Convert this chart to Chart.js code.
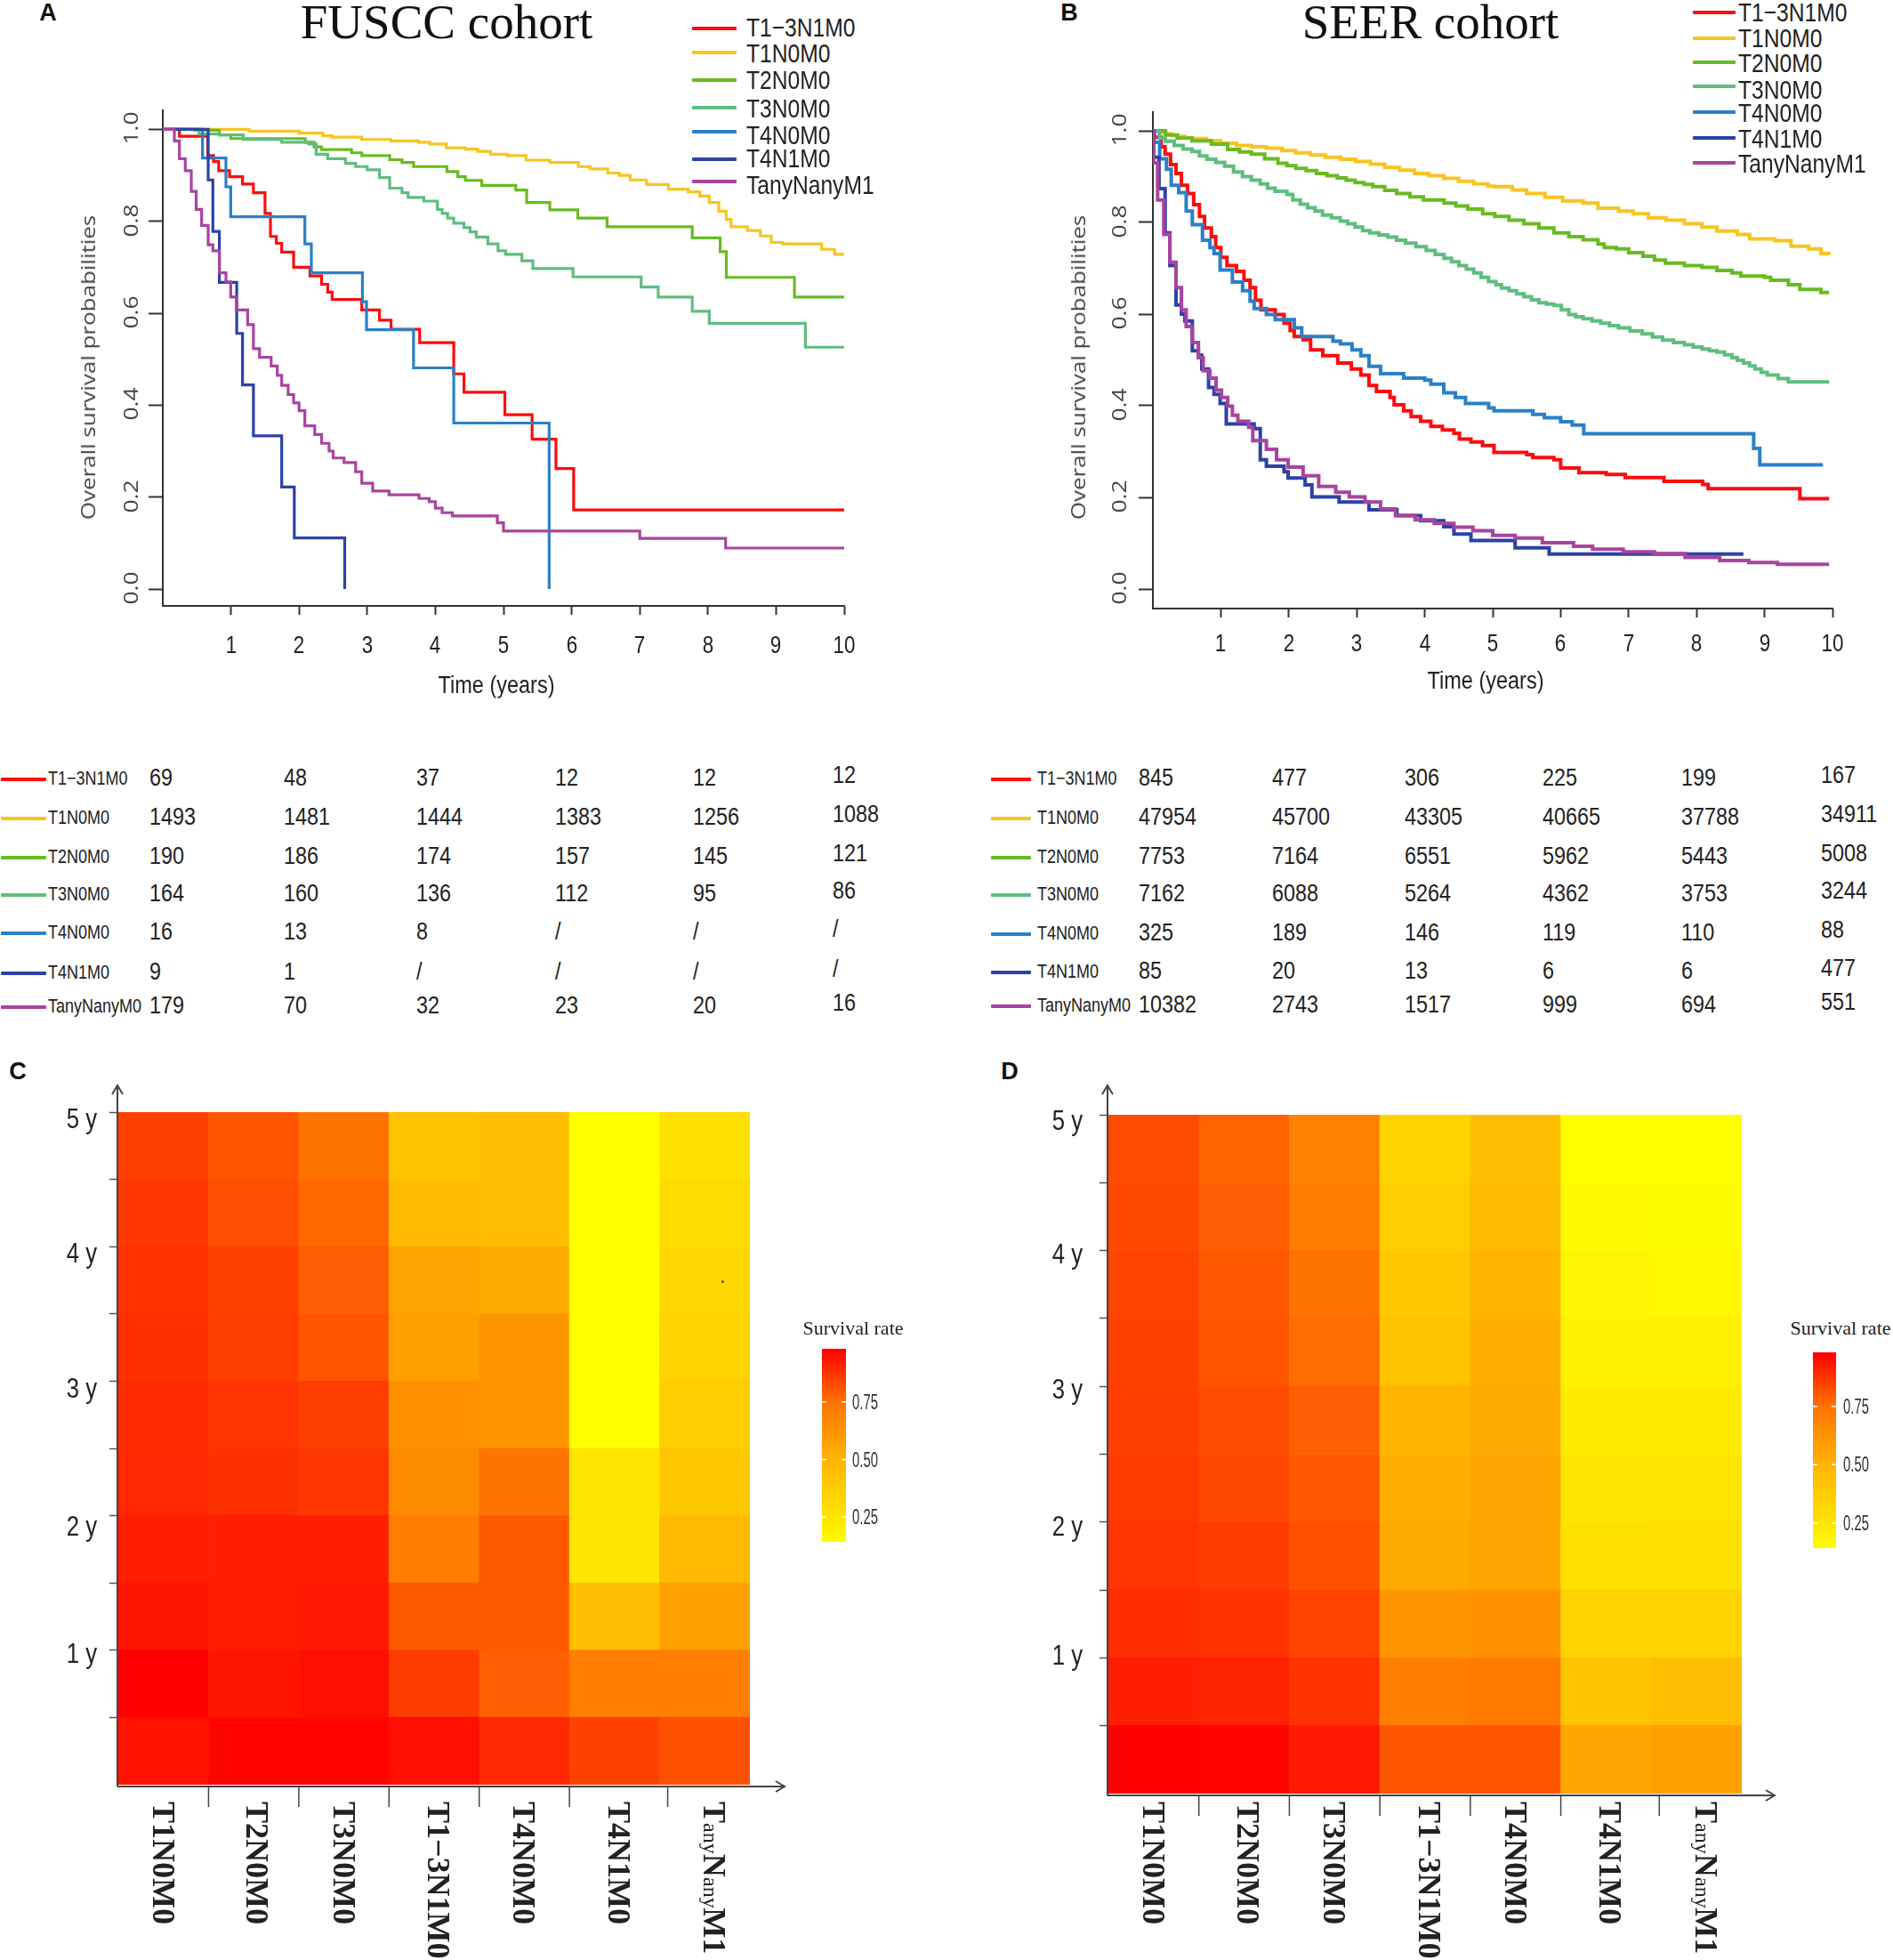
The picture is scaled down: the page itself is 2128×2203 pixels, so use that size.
<!DOCTYPE html>
<html>
<head>
<meta charset="utf-8">
<title>Survival by stage</title>
<script src="https://cdn.jsdelivr.net/npm/chart.js@4/dist/chart.umd.js"></script>
<style>
  html, body { margin: 0; padding: 0; background: #fff; }
  #page { position: relative; width: 2128px; height: 2203px; overflow: hidden; }
  canvas { position: absolute; }
  .txt { position: absolute; white-space: nowrap; line-height: 1; color: #222; }
  .key { position: absolute; height: 4px; border-radius: 1px; }
</style>
</head>
<body>
<div id="page"></div>
<script>
// series shared by both cohorts
const seriesNames = ["T1\u22123N1M0", "T1N0M0", "T2N0M0", "T3N0M0", "T4N0M0", "T4N1M0", "TanyNanyM1"];
const tableNames = ["T1\u22123N1M0", "T1N0M0", "T2N0M0", "T3N0M0", "T4N0M0", "T4N1M0", "TanyNanyM0"];
const seriesColors = ["#fb0d0d", "#f7c422", "#68bb22", "#5fbd7f", "#2b80c6", "#2c42a6", "#a8449f"];

// FUSCC survival curves
const fT13N1M0 = [0,.244,.66,.745,.82,.98,1.17,1.33,1.5,1.58,1.667,1.745,1.92,2.16,2.33,2.42,2.485,2.92,3.18,3.35,3.77,4.27,4.42,5.02,5.42,5.77,6.03,10];
const fS13N1M0 = [1,.985,.943,.93,.91,.897,.881,.862,.817,.767,.752,.733,.70,.681,.663,.646,.63,.607,.585,.565,.536,.468,.428,.379,.326,.262,.172,.172];
const fT1N0M0 = [0,1.27,2.0,2.35,2.48,2.92,3.35,3.75,3.92,4.16,4.44,4.62,4.81,5.05,5.33,5.68,6.1,6.27,6.53,6.7,6.86,7.1,7.42,7.71,7.88,8.02,8.16,8.27,8.34,8.58,8.77,8.93,9.1,9.67,9.86,10];
const fS1N0M0 = [1,.996,.992,.986,.983,.978,.975,.972,.968,.96,.957,.952,.946,.943,.933,.928,.919,.914,.905,.90,.89,.88,.87,.864,.855,.841,.822,.804,.788,.78,.768,.754,.751,.739,.728,.728];
const fT2N0M0 = [0,.48,.83,1.0,2.09,2.22,2.33,2.77,2.92,3.33,3.51,3.68,4.17,4.33,4.44,4.68,5.18,5.34,5.68,6.09,6.52,7.77,8.18,8.27,9.27,10];
const fS2N0M0 = [1,.998,.988,.98,.972,.962,.956,.949,.943,.934,.928,.919,.908,.897,.889,.878,.868,.841,.825,.807,.788,.764,.734,.678,.635,.635];
const fT3N0M0 = [0,.53,.83,1.18,1.745,2.14,2.25,2.42,2.68,2.83,3.0,3.18,3.33,3.51,3.6,3.83,4.03,4.1,4.18,4.27,4.42,4.51,4.6,4.77,4.92,5.03,5.27,5.43,6.02,7.02,7.27,7.77,8.02,9.43,10];
const fS3N0M0 = [1,.99,.988,.978,.972,.968,.946,.936,.926,.919,.912,.895,.872,.862,.852,.844,.826,.817,.807,.796,.786,.777,.766,.751,.736,.728,.714,.697,.679,.657,.635,.604,.578,.526,.526];
const fT4N0M0 = [0,.583,.927,.997,2.085,2.18,2.93,2.99,3.68,4.27,5.67];
const fS4N0M0 = [1,.9375,.875,.81,.751,.688,.625,.564,.481,.361,0];
const fT4N1M0 = [0,.666,.735,.83,1.085,1.17,1.33,1.745,1.93,2.67];
const fS4N1M0 = [1,.89,.778,.667,.556,.444,.333,.222,.111,0];
const fTM1 = [0,.17,.244,.33,.418,.49,.57,.666,.735,.83,.927,.997,1.08,1.245,1.33,1.42,1.59,1.68,1.745,1.84,1.92,2.0,2.085,2.23,2.33,2.44,2.5,2.66,2.83,2.92,3.08,3.32,3.76,3.91,4.0,4.1,4.25,4.91,5.0,7.0,8.26,10];
const fSM1 = [1,.975,.936,.91,.865,.826,.791,.749,.736,.688,.668,.635,.607,.575,.523,.504,.485,.465,.443,.423,.405,.388,.355,.336,.317,.30,.285,.275,.255,.23,.213,.205,.197,.19,.176,.166,.159,.144,.126,.11,.089,.089];

// SEER survival curves
const sT13N1M0 = [0,.02,.12,.18,.26,.34,.42,.51,.6,.685,.76,.86,.925,1.0,1.09,1.23,1.34,1.43,1.51,1.59,1.8,1.93,2.02,2.08,2.21,2.32,2.5,2.72,2.92,3.06,3.18,3.29,3.49,3.55,3.69,3.8,3.94,4.09,4.26,4.43,4.51,4.68,4.85,5.02,5.5,5.59,5.9,6.0,6.27,6.67,6.95,7.52,8.09,8.17,9.52,9.95];
const sS13N1M0 = [1,.986,.965,.949,.926,.907,.881,.863,.839,.813,.788,.769,.745,.724,.706,.693,.674,.658,.63,.609,.599,.58,.564,.551,.544,.522,.509,.493,.48,.467,.444,.431,.418,.402,.389,.376,.366,.355,.347,.34,.327,.321,.313,.298,.293,.287,.282,.264,.254,.25,.243,.235,.228,.219,.197,.197];
const sT1N0M0 = [0,.1,.2,.28,.36,.47,.58,.79,1.0,1.23,1.45,1.67,1.9,2.1,2.32,2.54,2.76,2.98,3.2,3.41,3.63,3.85,4.06,4.28,4.5,4.72,4.93,5.03,5.29,5.5,5.77,6.03,6.33,6.55,6.85,7.07,7.29,7.55,7.82,8.08,8.3,8.6,8.78,9.15,9.39,9.65,9.83,9.95];
const sS1N0M0 = [1,.996,.993,.99,.988,.985,.983,.978,.973,.968,.965,.962,.957,.952,.947,.942,.938,.933,.927,.92,.914,.907,.902,.896,.89,.884,.879,.878,.871,.863,.855,.847,.842,.831,.825,.819,.81,.805,.797,.79,.781,.774,.764,.76,.748,.742,.732,.73];
const sT2N0M0 = [0,.183,.358,.576,.86,1.1,1.274,1.449,1.645,1.841,1.972,2.103,2.256,2.408,2.561,2.714,2.845,2.976,3.106,3.237,3.412,3.586,3.783,3.979,4.284,4.459,4.634,4.852,5.03,5.24,5.46,5.68,5.9,6.12,6.33,6.55,6.64,6.82,7,7.21,7.38,7.54,7.82,8.08,8.3,8.52,8.65,9,9.09,9.35,9.52,9.83,9.95];
const sS2N0M0 = [1,.991,.984,.978,.971,.959,.954,.949,.939,.929,.924,.918,.913,.907,.902,.897,.892,.887,.883,.878,.87,.863,.856,.849,.842,.836,.829,.819,.813,.805,.797,.788,.777,.769,.762,.753,.745,.742,.734,.726,.718,.711,.706,.702,.695,.69,.683,.68,.674,.664,.654,.647,.647];
const sT3N0M0 = [0,.096,.183,.314,.445,.576,.685,.794,.925,1.056,1.187,1.318,1.449,1.579,1.688,1.798,1.972,2.059,2.168,2.277,2.387,2.496,2.627,2.757,2.866,2.976,3.085,3.194,3.325,3.455,3.586,3.717,3.87,4.023,4.154,4.284,4.394,4.503,4.612,4.721,4.83,4.939,5.048,5.13,5.24,5.35,5.46,5.57,5.68,5.79,5.9,6.01,6.12,6.22,6.33,6.46,6.59,6.72,6.85,7.02,7.2,7.35,7.5,7.66,7.82,7.95,8.08,8.19,8.3,8.41,8.52,8.6,8.69,8.78,8.86,8.95,9.04,9.2,9.35,9.95];
const sS3N0M0 = [1,.984,.977,.968,.96,.955,.945,.938,.931,.923,.91,.9,.892,.884,.875,.868,.861,.849,.84,.832,.825,.816,.81,.803,.797,.79,.782,.777,.773,.768,.761,.755,.747,.739,.73,.722,.714,.706,.698,.69,.68,.671,.664,.657,.651,.644,.638,.631,.625,.622,.619,.609,.599,.594,.59,.585,.58,.575,.57,.563,.557,.55,.543,.538,.533,.528,.524,.52,.517,.511,.505,.499,.493,.487,.48,.473,.467,.459,.452,.452];
const sT4N0M0 = [0,.02,.1,.2,.27,.38,.49,.58,.73,.84,.9,.99,1.17,1.32,1.43,1.49,1.67,1.8,2.08,2.19,2.65,2.76,2.93,3.06,3.18,3.35,3.69,4.0,4.09,4.28,4.45,4.6,4.94,5.02,5.59,5.76,6.0,6.17,6.34,8.84,8.93,9.86];
const sS4N0M0 = [1,.975,.939,.916,.881,.865,.825,.795,.761,.745,.732,.696,.67,.651,.628,.612,.599,.588,.57,.551,.541,.535,.522,.509,.486,.47,.46,.456,.447,.428,.418,.405,.395,.389,.381,.374,.365,.358,.339,.307,.271,.271];
const sT4N1M0 = [0,.01,.09,.18,.25,.34,.42,.47,.58,.67,.72,.82,.9,.99,1.08,1.49,1.58,1.67,1.93,1.99,2.24,2.34,2.74,3.18,3.59,3.94,4.28,4.43,4.68,5.33,5.83,8.69];
const sS4N1M0 = [1,.942,.874,.777,.706,.62,.60,.585,.52,.51,.48,.44,.425,.405,.36,.35,.282,.268,.256,.242,.227,.201,.19,.173,.16,.149,.136,.12,.106,.09,.076,.076];
const sTM1 = [0,.01,.07,.16,.25,.34,.42,.49,.58,.67,.74,.84,.93,1.01,1.1,1.17,1.25,1.41,1.47,1.67,1.82,1.99,2.21,2.44,2.69,2.89,3.12,3.35,3.57,3.86,4.14,4.43,4.71,5,5.33,5.73,6.19,6.47,6.92,7.38,7.83,8.34,8.77,9.19,9.95];
const sSM1 = [1,.93,.849,.774,.713,.658,.609,.573,.538,.505,.476,.46,.434,.418,.399,.379,.366,.353,.324,.305,.282,.266,.247,.224,.211,.201,.19,.175,.16,.151,.143,.135,.127,.117,.111,.101,.093,.087,.081,.077,.069,.062,.058,.054,.054];

// axis ticks of the survival plots
const yearTicks = [1, 2, 3, 4, 5, 6, 7, 8, 9, 10];
const survivalTicks = [0, .2, .4, .6, .8, 1];

// numbers at risk
const fuscCounts = [
  ["69", "48", "37", "12", "12", "12"],
  ["1493", "1481", "1444", "1383", "1256", "1088"],
  ["190", "186", "174", "157", "145", "121"],
  ["164", "160", "136", "112", "95", "86"],
  ["16", "13", "8", "/", "/", "/"],
  ["9", "1", "/", "/", "/", "/"],
  ["179", "70", "32", "23", "20", "16"]
];
const seerCounts = [
  ["845", "477", "306", "225", "199", "167"],
  ["47954", "45700", "43305", "40665", "37788", "34911"],
  ["7753", "7164", "6551", "5962", "5443", "5008"],
  ["7162", "6088", "5264", "4362", "3753", "3244"],
  ["325", "189", "146", "119", "110", "88"],
  ["85", "20", "13", "6", "6", "477"],
  ["10382", "2743", "1517", "999", "694", "551"]
];

// heatmap rates, bottom row (0-0.5 y) first
const heatCategories = ["T1N0M0", "T2N0M0", "T3N0M0", "T1\u22123N1M0", "T4N0M0", "T4N1M0", "TanyNanyM1"];
const heatRows = [0, .5, 1, 1.5, 2, 2.5, 3, 3.5, 4, 4.5, 5];
const heatTicks = [.5, 1, 1.5, 2, 2.5, 3, 3.5, 4, 4.5, 5];
const heatYears = [1, 2, 3, 4, 5];
const cRates = [
  [.94,.977,.934,.918,.898,.892,.884,.878,.868,.853],
  [.967,.938,.922,.918,.882,.874,.855,.849,.823,.809],
  [.967,.947,.928,.918,.868,.855,.809,.789,.77,.75],
  [.947,.859,.799,.711,.654,.635,.577,.558,.474,.422],
  [.898,.789,.799,.799,.75,.615,.615,.538,.448,.448],
  [.849,.711,.448,.242,.242,.136,.136,.136,.136,.136],
  [.819,.711,.577,.474,.396,.37,.344,.318,.292,.266]
];
const dRates = [
  [.977,.918,.888,.874,.863,.855,.849,.843,.835,.829],
  [.967,.908,.878,.859,.839,.829,.813,.803,.789,.78],
  [.928,.878,.843,.819,.803,.789,.764,.75,.711,.692],
  [.809,.711,.615,.538,.519,.5,.422,.396,.37,.344],
  [.809,.731,.635,.558,.558,.538,.519,.5,.474,.448],
  [.558,.422,.344,.266,.242,.221,.2,.178,.157,.136],
  [.577,.448,.344,.266,.25,.221,.2,.165,.149,.136]
];

// colour scale of the rate legend
const scaleRates = [.136, .25, .5, .75, .977];
const scaleGreen = [255, 228, 180, 115, 0];
const legendTicks = [.25, .5, .75];

const SANS = '"Liberation Sans", sans-serif';
const SERIF = '"Liberation Serif", serif';
const OPEN = '"Open Sans", sans-serif';
const page = document.getElementById("page");

// text squeezed sideways because the reference has a tall narrow face
function addText(text, x, y, css) {
  const d = document.createElement("div");
  d.className = "txt";
  d.innerHTML = text;
  d.style.left = x + "px";
  d.style.top = y + "px";
  if (css.tf) {
    d.style.transform = css.tf;
  } else {
    d.style.transformOrigin = "0 50%";
    d.style.transform = "translateY(-50%) scaleX(" + (css.sx || 1) + ")";
  }
  d.style.fontFamily = css.family || SANS;
  d.style.fontSize = css.size + "px";
  if (css.bold) d.style.fontWeight = "bold";
  if (css.color) d.style.color = css.color;
  if (css.mode) d.style.writingMode = css.mode;
  page.appendChild(d);
  return d;
}

function addCanvas(left, top, w, h) {
  const c = document.createElement("canvas");
  c.width = w;
  c.height = h;
  c.style.left = left + "px";
  c.style.top = top + "px";
  c.style.width = w + "px";
  c.style.height = h + "px";
  page.appendChild(c);
  return c;
}

function greenFor(rate) {
  if (rate <= scaleRates[0]) return scaleGreen[0];
  for (let i = 1; i < scaleRates.length; i++) {
    if (rate <= scaleRates[i]) {
      const k = (rate - scaleRates[i - 1]) / (scaleRates[i] - scaleRates[i - 1]);
      return scaleGreen[i - 1] + k * (scaleGreen[i] - scaleGreen[i - 1]);
    }
  }
  return 0;
}
function rateColor(rate) {
  return "rgb(255," + Math.round(greenFor(rate)) + ",0)";
}

function curve(times, values) {
  return times.map((t, i) => ({ x: t, y: values[i] }));
}

function survivalChart(box, curves) {
  const canvas = addCanvas(box.left, box.top, box.w, box.h);
  const perUnit = box.y0 - box.y1;
  const chart = new Chart(canvas, {
    type: "line",
    data: {
      datasets: curves.map((c, i) => ({
        label: seriesNames[i],
        data: curve(c[0], c[1]),
        stepped: true,
        borderColor: seriesColors[i],
        borderWidth: box.lineWidth,
        pointRadius: 0,
        fill: false,
        order: curves.length - i
      }))
    },
    options: {
      responsive: false,
      animation: false,
      devicePixelRatio: 1,
      layout: { padding: { top: box.plotTop - box.top, right: box.left + box.w - box.plotRight, left: 0, bottom: 0 } },
      plugins: { legend: { display: false }, tooltip: { enabled: false } },
      scales: {
        x: {
          type: "linear",
          min: 0,
          max: 10,
          afterBuildTicks: s => { s.ticks = yearTicks.map(v => ({ value: v })); },
          afterFit: s => { s.height = box.top + box.h - box.plotBottom; s.paddingLeft = 0; s.paddingRight = 0; },
          grid: { drawOnChartArea: false, tickLength: 10, tickColor: "#333", tickWidth: 2 },
          border: { color: "#333", width: 2 },
          ticks: { display: false, autoSkip: false }
        },
        y: {
          min: -(box.plotBottom - box.y0) / perUnit,
          max: 1 + (box.y1 - box.plotTop) / perUnit,
          afterBuildTicks: s => { s.ticks = survivalTicks.map(v => ({ value: v })); },
          afterFit: s => { s.width = box.plotLeft - box.left; s.paddingTop = 0; s.paddingBottom = 0; },
          grid: { drawOnChartArea: false, tickLength: 16, tickColor: "#333", tickWidth: 2 },
          border: { color: "#333", width: 2 },
          ticks: { display: false, autoSkip: false }
        }
      }
    }
  });
  // tick labels sit at the scale positions
  yearTicks.forEach(v => {
    addText(String(v), box.left + chart.scales.x.getPixelForValue(v), box.xLabelY, {
      size: 28, color: "#222", tf: "translate(-50%,-50%) scaleX(.8)"
    });
  });
  survivalTicks.forEach(v => {
    addText(v.toFixed(1), box.yLabelX, box.top + chart.scales.y.getPixelForValue(v) - 1, {
      family: OPEN, size: 22, color: "#444", tf: "translate(-50%,-50%) rotate(-90deg) scaleX(1.2)"
    });
  });
}

// arrows, extended axis lines and the ticks between cells of a heatmap
const heatAxes = {
  id: "heatAxes",
  afterDraw(chart, args, opts) {
    const c = chart.ctx, a = chart.chartArea, sx = chart.scales.x;
    c.save();
    c.strokeStyle = "#444";
    c.lineWidth = 2;
    const ax = a.left - 1, ay = a.bottom + 2;
    c.beginPath();
    c.moveTo(ax, ay);
    c.lineTo(ax, a.top - opts.rise);
    c.moveTo(ax - 6, a.top - opts.rise + 10);
    c.lineTo(ax, a.top - opts.rise);
    c.lineTo(ax + 6, a.top - opts.rise + 10);
    c.moveTo(ax, ay);
    c.lineTo(a.right + opts.run, ay);
    c.moveTo(a.right + opts.run - 10, ay - 6);
    c.lineTo(a.right + opts.run, ay);
    c.lineTo(a.right + opts.run - 10, ay + 6);
    c.stroke();
    c.lineWidth = 1.5;
    c.beginPath();
    for (let i = 1; i < heatCategories.length; i++) {
      const shift = i === heatCategories.length - 1 ? 9 : 0;
      const x = (sx.getPixelForValue(i - 1) + sx.getPixelForValue(i)) / 2 + shift;
      c.moveTo(x, ay);
      c.lineTo(x, ay + 23);
    }
    c.stroke();
    c.restore();
  }
};

function heatChart(box, rates) {
  const canvas = addCanvas(box.left, box.top, box.w, box.h);
  const datasets = [];
  for (let r = 0; r < heatRows.length - 1; r++) {
    datasets.push({
      data: heatCategories.map(() => [heatRows[r], heatRows[r + 1]]),
      backgroundColor: rates.map(col => rateColor(col[r])),
      borderWidth: 0,
      barPercentage: 1,
      categoryPercentage: 1,
      grouped: false
    });
  }
  const chart = new Chart(canvas, {
    type: "bar",
    data: { labels: heatCategories, datasets: datasets },
    plugins: [heatAxes],
    options: {
      responsive: false,
      animation: false,
      devicePixelRatio: 1,
      layout: { padding: { top: box.plotTop - box.top, right: box.left + box.w - box.plotRight, left: 0, bottom: 0 } },
      plugins: {
        legend: { display: false },
        tooltip: { enabled: false },
        heatAxes: { rise: box.plotTop - box.arrowTop, run: box.arrowRight - box.plotRight }
      },
      scales: {
        x: {
          afterFit: s => { s.height = box.top + box.h - box.plotBottom; s.paddingLeft = 0; s.paddingRight = 0; },
          grid: { display: false },
          border: { display: false },
          ticks: { display: false }
        },
        y: {
          min: 0,
          max: 5,
          afterBuildTicks: s => { s.ticks = heatTicks.map(v => ({ value: v })); },
          afterFit: s => { s.width = box.plotLeft - box.left; s.paddingTop = 0; s.paddingBottom = 0; },
          grid: { drawOnChartArea: false, tickLength: 10, tickColor: "#555", tickWidth: 1.5 },
          border: { display: false },
          ticks: { display: false, autoSkip: false }
        }
      }
    }
  });
  heatYears.forEach((v, i) => {
    addText(v + " y", box.yLabelX, box.top + chart.scales.y.getPixelForValue(v) + box.yLabelShift[i], {
      size: 31, color: "#222", tf: "translate(-50%,-50%) scaleX(.83)"
    });
  });
  // rotated category names under the cells
  const shifts = [0, 4, 0, 5, 0, 5, 11];
  heatCategories.forEach((name, i) => {
    let html = name;
    if (name === "TanyNanyM1") {
      const sub = '<span style="font-size:24px;font-weight:normal;position:relative;left:-4px">any</span>';
      html = "T" + sub + "N" + sub + "M1";
    }
    addText(html, box.left + chart.scales.x.getPixelForValue(i) + shifts[i], box.labelTop, {
      family: SERIF, size: 36, bold: true, mode: "vertical-rl", tf: "translateX(-50%)"
    });
  });
}

function rateLegend(box) {
  const canvas = addCanvas(box.left, box.top, box.w, box.h);
  const whiteMarks = {
    id: "whiteMarks",
    afterDraw(chart) {
      const c = chart.ctx, a = chart.chartArea, sy = chart.scales.y;
      c.save();
      c.strokeStyle = "#fff";
      c.lineWidth = 1.5;
      c.beginPath();
      legendTicks.forEach(v => {
        const y = sy.getPixelForValue(v);
        c.moveTo(a.left, y); c.lineTo(a.left + 5, y);
        c.moveTo(a.right - 5, y); c.lineTo(a.right, y);
      });
      c.stroke();
      c.restore();
    }
  };
  const chart = new Chart(canvas, {
    type: "bar",
    data: {
      labels: ["rate"],
      datasets: [{
        data: [[box.low, box.high]],
        barPercentage: 1,
        categoryPercentage: 1,
        borderWidth: 0,
        backgroundColor: ctx => {
          const a = ctx.chart.chartArea;
          if (!a) return "#f80";
          const g = ctx.chart.ctx.createLinearGradient(0, a.bottom, 0, a.top);
          const span = box.high - box.low;
          g.addColorStop(0, rateColor(box.low));
          scaleRates.forEach(r => {
            if (r > box.low && r < box.high) g.addColorStop((r - box.low) / span, rateColor(r));
          });
          g.addColorStop(1, rateColor(box.high));
          return g;
        }
      }]
    },
    plugins: [whiteMarks],
    options: {
      responsive: false,
      animation: false,
      devicePixelRatio: 1,
      layout: { padding: { top: box.plotTop - box.top, left: box.plotLeft - box.left, right: 0, bottom: box.top + box.h - box.plotBottom } },
      plugins: { legend: { display: false }, tooltip: { enabled: false } },
      scales: {
        x: { display: false },
        y: {
          position: "right",
          min: box.low,
          max: box.high,
          afterBuildTicks: s => { s.ticks = legendTicks.map(v => ({ value: v })); },
          afterFit: s => { s.width = box.left + box.w - box.plotRight; s.paddingTop = 0; s.paddingBottom = 0; },
          grid: { display: false },
          border: { display: false },
          ticks: { display: false, autoSkip: false }
        }
      }
    }
  });
  legendTicks.forEach(v => {
    addText(v.toFixed(2), box.labelX, box.top + chart.scales.y.getPixelForValue(v), { size: 24, color: "#333", sx: .62 });
  });
  addText("Survival rate", box.titleX, box.titleY, { family: SERIF, size: 22, color: "#222", tf: "translate(-50%,-50%)" });
}

function seriesKey(keyRows, labelRows, x0, x1, labelX) {
  keyRows.forEach((y, i) => {
    const k = document.createElement("div");
    k.className = "key";
    k.style.left = x0 + "px";
    k.style.top = (y - 2) + "px";
    k.style.width = (x1 - x0) + "px";
    k.style.background = seriesColors[i];
    page.appendChild(k);
    addText(seriesNames[i], labelX, labelRows[i], { size: 30, sx: .82 });
  });
}

function riskTable(rows, counts, lineX0, lineX1, labelX, cols) {
  rows.forEach((y, i) => {
    const k = document.createElement("div");
    k.className = "key";
    k.style.left = lineX0 + "px";
    k.style.top = (y + 1) + "px";
    k.style.width = (lineX1 - lineX0) + "px";
    k.style.background = seriesColors[i];
    page.appendChild(k);
    addText(tableNames[i], labelX, y + 2, { size: 22.5, sx: .8 });
    counts[i].forEach((n, j) => {
      addText(n, cols[j], j === 5 ? y - 3 : y, { size: 28.5, color: "#222", sx: .82 });
    });
  });
}

// panel A
survivalChart({ left: 50, top: 100, w: 960, h: 686, plotLeft: 183, plotRight: 949, plotTop: 124, plotBottom: 681, y1: 145.4, y0: 662, lineWidth: 3.2, xLabelY: 725, yLabelX: 146 }, [
  [fT13N1M0, fS13N1M0], [fT1N0M0, fS1N0M0], [fT2N0M0, fS2N0M0], [fT3N0M0, fS3N0M0],
  [fT4N0M0, fS4N0M0], [fT4N1M0, fS4N1M0], [fTM1, fSM1]
]);
addText("FUSCC cohort", 502, 24, { family: SERIF, size: 55, color: "#111", tf: "translate(-50%,-50%)" });
addText("A", 54, 14, { size: 27, bold: true, color: "#111", tf: "translate(-50%,-50%)" });
addText("Overall survival probabilities", 98, 413, { family: OPEN, size: 22, color: "#444", tf: "translate(-50%,-50%) rotate(-90deg) scaleX(1.18)" });
addText("Time (years)", 558, 770, { size: 27, color: "#222", tf: "translate(-50%,-50%) scaleX(.87)" });
seriesKey([32, 59, 90, 121, 148, 179, 204], [31, 60, 90, 122, 152, 178, 208], 778, 828, 839);

// panel B
survivalChart({ left: 1160, top: 100, w: 960, h: 682, plotLeft: 1296, plotRight: 2060, plotTop: 126, plotBottom: 684, y1: 147, y0: 662, lineWidth: 4, xLabelY: 723, yLabelX: 1257 }, [
  [sT13N1M0, sS13N1M0], [sT1N0M0, sS1N0M0], [sT2N0M0, sS2N0M0], [sT3N0M0, sS3N0M0],
  [sT4N0M0, sS4N0M0], [sT4N1M0, sS4N1M0], [sTM1, sSM1]
]);
addText("SEER cohort", 1608, 24, { family: SERIF, size: 55, color: "#111", tf: "translate(-50%,-50%)" });
addText("B", 1202, 14, { size: 27, bold: true, color: "#111", tf: "translate(-50%,-50%)" });
addText("Overall survival probabilities", 1211, 413, { family: OPEN, size: 22, color: "#444", tf: "translate(-50%,-50%) rotate(-90deg) scaleX(1.18)" });
addText("Time (years)", 1670, 765, { size: 27, color: "#222", tf: "translate(-50%,-50%) scaleX(.87)" });
seriesKey([14, 43, 70, 97, 126, 155, 183], [14, 43, 71, 101, 127, 156, 184], 1903, 1951, 1954);

// numbers at risk
riskTable([873, 917, 961, 1003, 1046, 1091, 1129], fuscCounts, 1, 52, 54, [168, 319, 468, 624, 779, 936]);
riskTable([873, 917, 961, 1003, 1047, 1090, 1128], seerCounts, 1114, 1159, 1166, [1280, 1430, 1579, 1734, 1890, 2047]);

// panel C
heatChart({ left: 40, top: 1205, w: 870, h: 900, plotLeft: 133, plotRight: 843, plotTop: 1250, plotBottom: 2006, arrowTop: 1220, arrowRight: 882, labelTop: 2025, yLabelX: 92, yLabelShift: [3, 11, 8, 7, 7] }, cRates);
addText("C", 20, 1204, { size: 27, bold: true, color: "#111", tf: "translate(-50%,-50%)" });
rateLegend({ left: 915, top: 1505, w: 90, h: 240, plotLeft: 924, plotRight: 951, plotTop: 1516, plotBottom: 1733, low: .143, high: .981, labelX: 958, titleX: 959, titleY: 1493 });

// stray speck in the reference cell
const speck = document.createElement("div");
speck.style.cssText = "position:absolute;left:811px;top:1439px;width:3px;height:3px;background:#555;border-radius:50%";
page.appendChild(speck);

// panel D
heatChart({ left: 1150, top: 1205, w: 850, h: 900, plotLeft: 1246, plotRight: 1958, plotTop: 1253, plotBottom: 2016, arrowTop: 1220, arrowRight: 1995, labelTop: 2025, yLabelX: 1200, yLabelShift: [-3, 4, 3, 3, 6] }, dRates);
addText("D", 1135, 1204, { size: 27, bold: true, color: "#111", tf: "translate(-50%,-50%)" });
rateLegend({ left: 2030, top: 1510, w: 98, h: 240, plotLeft: 2038, plotRight: 2064, plotTop: 1520, plotBottom: 1740, low: .143, high: .981, labelX: 2072, titleX: 2069, titleY: 1493 });
</script>
</body>
</html>
